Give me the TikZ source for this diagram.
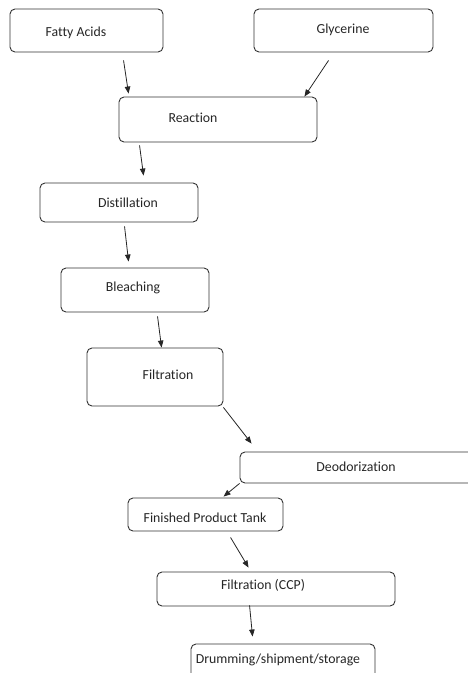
\documentclass[tikz,border=0pt]{standalone}
\usepackage{fontspec}
\setmainfont{Carlito}[Ligatures=NoCommon]
\usetikzlibrary{arrows.meta,calc}
\begin{document}
\begin{tikzpicture}[x=1pt,y=-1pt,
  box/.style={draw=black!80,line width=0.9pt,rounded corners=5pt,inner sep=0pt,fill=white},
  txt/.style={text=black!85,font=\fontsize{13.8}{17}\selectfont,inner sep=0pt,anchor=center},
  arr/.style={draw=black!85,line width=0.8pt,-{Triangle[length=7pt,width=5.5pt]}}]
\useasboundingbox (0,0) rectangle (468,673);
\clip (0,0) rectangle (468,673);
\fill[white] (0,0) rectangle (468,673);
% boxes
\node[box,minimum width=153pt,minimum height=43pt] (fa) at (86.5,30.5) {};
\node[box,minimum width=179pt,minimum height=43pt] (gl) at (343.5,30.5) {};
\node[box,minimum width=198pt,minimum height=45pt] (re) at (218,119.5) {};
\node[box,minimum width=158pt,minimum height=39pt] (di) at (119,202.5) {};
\node[box,minimum width=148pt,minimum height=44pt] (bl) at (135,290) {};
\node[box,minimum width=136pt,minimum height=58pt] (fi) at (155,377) {};
\node[box,minimum width=235pt,minimum height=31pt] (de) at (357.5,467.5) {};
\node[box,minimum width=155pt,minimum height=33pt] (fpt) at (205.5,514.5) {};
\node[box,minimum width=238pt,minimum height=34pt] (ccp) at (276,589) {};
\node[box,minimum width=184pt,minimum height=36pt] (dr) at (283,662) {};
% texts
\node[txt] (tfa) at (76,33) {Fatty Acids};
\node[txt] (tgl) at (343,30) {Glycerine};
\node[txt] (tre) at (193,118) {Reaction};
\node[txt] (tdi) at (128,203) {Distillation};
\node[txt] (tbl) at (133,288) {Bleaching};
\node[txt] (tfi) at (168,375) {Filtration};
\node[txt] (tde) at (356,467) {Deodorization};
\node[txt] (tfpt) at (205,518) {Finished Product Tank};
\node[txt] (tccp) at (263,585) {Filtration (CCP)};
\node[txt] (tdr) at (278,660) {Drumming/shipment/storage};
% arrows
\draw[arr] ($(fa.south west)+(114,8)$) -- ($(re.north west)+(10,-3)$);
\draw[arr] ($(gl.south west)+(75,8)$) -- ($(re.north east)+(-13,0)$);
\draw[arr] ($(re.south west)+(21,3)$) -- ($(di.north west)+(104,-7)$);
\draw[arr] ($(di.south west)+(85,4)$) -- ($(bl.north west)+(68,-6)$);
\draw[arr] ($(bl.south west)+(97,4)$) -- ($(fi.north west)+(75,0)$);
\draw[arr] ($(fi.south east)+(0,1)$) -- ($(de.north west)+(12,-8)$);
\draw[arr] (de.south west) -- ($(fpt.north west)+(96,-1)$);
\draw[arr] ($(fpt.south west)+(103,6)$) -- ($(ccp.north west)+(92,-4)$);
\draw[arr] ($(ccp.south west)+(93,-1)$) -- ($(dr.north west)+(62,-7)$);
\end{tikzpicture}
\end{document}
